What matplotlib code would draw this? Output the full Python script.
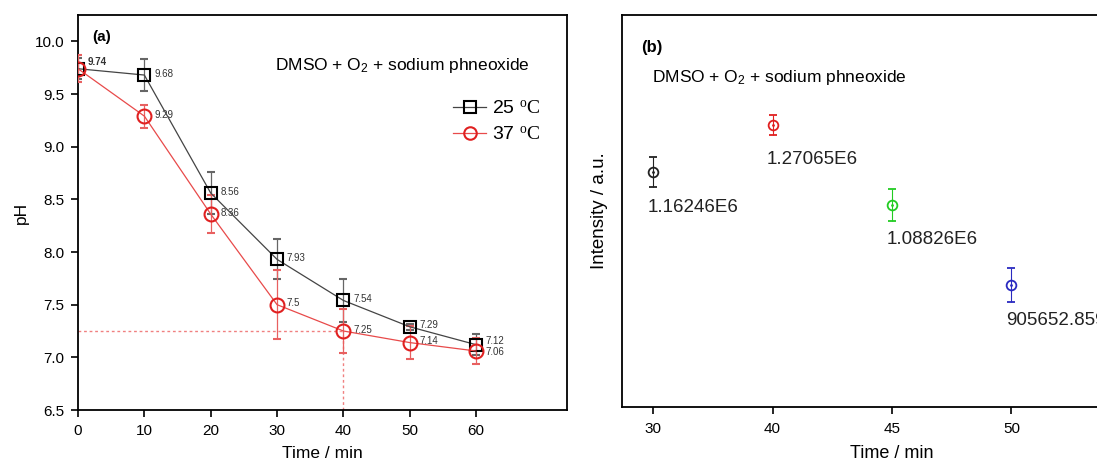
import matplotlib
matplotlib.use("Agg")
import matplotlib.pyplot as plt
from matplotlib.lines import Line2D
import numpy as np

# ---- Data panel (a)
time_a = [0, 10, 20, 30, 40, 50, 60]
ph_25 = [9.74, 9.68, 8.56, 7.93, 7.54, 7.29, 7.12]
err_25 = [0.10, 0.15, 0.20, 0.19, 0.20, 0.03, 0.10]
ph_37 = [9.74, 9.29, 8.36, 7.5, 7.25, 7.14, 7.06]
err_37 = [0.13, 0.11, 0.18, 0.33, 0.21, 0.16, 0.12]
labels_25 = ["9.74", "9.68", "8.56", "7.93", "7.54", "7.29", "7.12"]
labels_37 = ["", "9.29", "8.36", "7.5", "7.25", "7.14", "7.06"]
legend_a = ["25 $^{\\rm o}{\\rm C}$", "37 $^{\\rm o}{\\rm C}$"]

# ---- Data panel (b)
cats_b = ["30", "40", "45", "50"]
intensity = [1.16246e6, 1.27065e6, 1.08826e6, 905652.859]
err_b = [0.034e6, 0.023e6, 0.036e6, 0.039e6]
labels_b = ["1.16246E6", "1.27065E6", "1.08826E6", "905652.859"]
colors_b = ["#222222", "#e02020", "#22cc22", "#2a2ac0"]

plt.rcParams['font.family'] = ['Liberation Sans', 'DejaVu Sans']
plt.rcParams['mathtext.fontset'] = 'custom'
plt.rcParams['mathtext.rm'] = 'Liberation Serif'
plt.rcParams['mathtext.it'] = 'Liberation Serif:italic'
plt.rcParams['mathtext.bf'] = 'Liberation Serif:bold'
plt.rcParams['mathtext.sf'] = 'Liberation Sans'

W, H = 1097, 465
fig = plt.figure(figsize=(W / 100, H / 100), dpi=100)

def box(l, t, r, b):
    return [l / W, 1 - b / H, (r - l) / W, (b - t) / H]

SUB2 = "DMSO + O$_{\\mathsf{2}}$ + sodium phneoxide"

# ---------------- Panel (a)
ax = fig.add_axes(box(78, 15, 567, 410))
ax.errorbar(time_a, ph_25, yerr=err_25, color="#444444", lw=0.9, marker="s",
            ms=9, mfc="none", mec="black", mew=1.5, ecolor="#666666",
            elinewidth=0.9, capsize=3, zorder=3)
ax.errorbar(time_a, ph_37, yerr=err_37, color="#e84a4a", lw=0.9, marker="o",
            ms=10, mfc="none", mec="#e02020", mew=1.5, ecolor="#e86060",
            elinewidth=0.9, capsize=3, zorder=3)
ax.plot([0, time_a[4]], [ph_37[4], ph_37[4]], color="#f08080", ls=(0, (2, 2)), lw=1)
ax.plot([time_a[4], time_a[4]], [6.5, ph_37[4]], color="#f08080", ls=(0, (2, 2)), lw=1)

for x, y, s in zip(time_a, ph_25, labels_25):
    dy = 3 if x == 60 else 1
    ax.annotate(s, (x, y), xytext=(7, dy), textcoords="offset points",
                fontsize=7, color="#333333",
                fontweight="bold" if x == 0 else "normal", va="bottom" if x == 0 else "center")
for x, y, s in zip(time_a, ph_37, labels_37):
    if s:
        dy = -1 if x == 60 else 1
        ax.annotate(s, (x, y), xytext=(7, dy), textcoords="offset points",
                    fontsize=7, color="#333333", va="center")

ax.set_xlim(0, 73.7)
ax.set_ylim(6.5, 10.25)
ax.set_xticks([0, 10, 20, 30, 40, 50, 60])
ax.set_yticks([6.5, 7.0, 7.5, 8.0, 8.5, 9.0, 9.5, 10.0])
ax.set_yticklabels(["6.5", "7.0", "7.5", "8.0", "8.5", "9.0", "9.5", "10.0"])
ax.tick_params(direction="out", labelsize=11, length=5, width=1.2, pad=5)
for sp in ax.spines.values():
    sp.set_linewidth(1.3)
ax.set_xlabel("Time / min", fontsize=12.5, labelpad=6)
ax.set_ylabel("pH", fontsize=12.5, labelpad=4)
ax.text(0.03, 0.935, "(a)", transform=ax.transAxes, fontsize=11, fontweight="bold")
ax.text(0.403, 0.86, SUB2, transform=ax.transAxes, fontsize=12.5)
handles = [Line2D([], [], color="#444444", lw=0.9, marker="s", ms=8, mfc="none", mec="black", mew=1.5),
           Line2D([], [], color="#e84a4a", lw=0.9, marker="o", ms=9, mfc="none", mec="#e02020", mew=1.5)]
leg = ax.legend(handles, legend_a, loc="upper right", bbox_to_anchor=(0.97, 0.815), frameon=False,
                prop={"size": 14}, handlelength=1.7,
                handletextpad=0.3, labelspacing=0.45, borderaxespad=0.2)

# ---------------- Panel (b)
bx = fig.add_axes(box(622, 15, 1162, 407))
xpos = np.arange(len(cats_b))
for i, (v, e, c, s) in enumerate(zip(intensity, err_b, colors_b, labels_b)):
    bx.errorbar([xpos[i]], [v], yerr=[e], fmt="o", ms=7, mfc="none", mec=c, mew=1.3,
                ecolor=c, elinewidth=0.8, capsize=3, alpha=1)
    bx.plot([xpos[i]], [v], marker=".", ms=2, color=c)
    bx.annotate(s, (xpos[i], v), xytext=(-4, -19), textcoords="offset points",
                fontsize=13.5, color="#222222", ha="left", va="top")
bx.set_xlim(-0.26, 4.26)
bx.set_ylim(0.628e6, 1.521e6)
bx.set_xticks(xpos)
bx.set_xticklabels(cats_b)
bx.set_yticks([])
bx.tick_params(direction="out", labelsize=11, length=5, width=1.2, pad=6)
for sp in bx.spines.values():
    sp.set_linewidth(1.3)
bx.set_xlabel("Time / min", fontsize=13, labelpad=6)
bx.set_ylabel("Intensity / a.u.", fontsize=13.5, labelpad=10)
bx.text(0.036, 0.905, "(b)", transform=bx.transAxes, fontsize=12, fontweight="bold")
bx.text(0.056, 0.83, SUB2, transform=bx.transAxes, fontsize=12.5)

fig.savefig("out.png", dpi=100)
